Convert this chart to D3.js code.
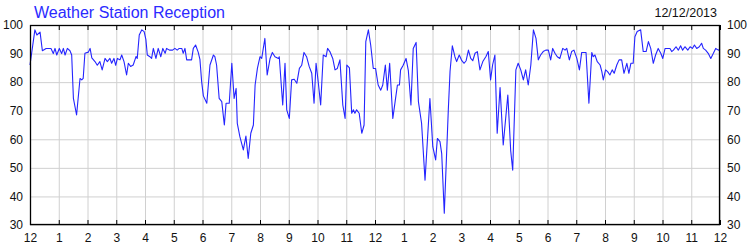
<!DOCTYPE html>
<html><head><meta charset="utf-8">
<script src="https://cdn.jsdelivr.net/npm/d3@7"></script>
<style>
html,body{margin:0;padding:0;background:#fff;}
svg{display:block;font-family:"Liberation Sans",Arial,sans-serif;}
</style></head>
<body><svg id="c" width="750" height="250"></svg>
<script>
const title = "Weather Station Reception";
const dateLabel = "12/12/2013";
const hourTicks = d3.range(0, 25);
const hourLabels = ["12","1","2","3","4","5","6","7","8","9","10","11","12","1","2","3","4","5","6","7","8","9","10","11","12"];
const yTicks = [30,40,50,60,70,80,90,100];

const times = [0,0.17,0.24,0.35,0.43,0.56,0.73,0.81,0.87,0.93,1.02,1.10,1.16,1.22,1.30,1.39,1.45,1.51,1.62,1.74,1.80,1.85,1.91,2.03,2.09,2.15,2.26,2.34,2.43,2.51,2.61,2.69,2.78,2.84,2.92,2.98,3.04,3.13,3.19,3.27,3.36,3.42,3.50,3.59,3.69,3.73,3.80,3.89,3.97,4.03,4.08,4.17,4.23,4.29,4.38,4.46,4.55,4.62,4.70,4.75,4.85,4.96,5.04,5.12,5.19,5.28,5.33,5.39,5.45,5.62,5.68,5.76,5.85,5.91,5.97,6.03,6.15,6.26,6.38,6.43,6.49,6.58,6.67,6.76,6.82,6.93,7.02,7.10,7.17,7.21,7.30,7.42,7.51,7.59,7.68,7.77,7.83,7.91,8.00,8.06,8.17,8.25,8.35,8.43,8.52,8.64,8.67,8.79,8.87,8.93,9.02,9.10,9.19,9.28,9.37,9.45,9.53,9.62,9.71,9.80,9.88,9.95,10.03,10.11,10.20,10.30,10.35,10.43,10.53,10.61,10.69,10.78,10.88,10.96,11.02,11.11,11.19,11.25,11.30,11.36,11.45,11.54,11.62,11.68,11.77,11.85,11.94,12.02,12.11,12.20,12.27,12.36,12.43,12.51,12.62,12.70,12.78,12.85,12.89,12.98,13.08,13.16,13.25,13.33,13.43,13.51,13.62,13.74,13.91,14.01,14.11,14.17,14.26,14.32,14.41,14.55,14.61,14.69,14.78,14.84,14.93,15.02,15.10,15.17,15.25,15.33,15.40,15.48,15.56,15.65,15.75,15.86,15.94,16.02,16.09,16.17,16.25,16.35,16.46,16.62,16.72,16.79,16.90,16.98,17.07,17.16,17.24,17.33,17.42,17.51,17.60,17.68,17.76,17.85,17.94,18.03,18.11,18.18,18.26,18.34,18.43,18.53,18.61,18.67,18.76,18.84,18.92,19.02,19.11,19.19,19.34,19.44,19.54,19.59,19.65,19.73,19.83,19.89,19.94,20.02,20.09,20.17,20.25,20.32,20.41,20.49,20.58,20.66,20.76,20.83,20.90,20.98,21.04,21.12,21.24,21.33,21.43,21.51,21.59,21.68,21.76,21.85,21.94,22.01,22.09,22.26,22.32,22.38,22.47,22.55,22.63,22.70,22.78,22.88,22.96,23.04,23.11,23.19,23.28,23.36,23.42,23.50,23.59,23.68,23.77,23.85,23.94,24];
const signal = [86,98.3,96.5,97.5,91,91.8,91.8,90,91.8,89.5,91.8,90,91.8,89.5,91.8,91,89.5,74.3,68.5,81.3,80.8,81.3,90.1,90.5,91.8,88.5,87.2,85.9,87.2,84.3,88.3,87.2,88.3,86.6,88.3,85.9,88.3,87.8,89.5,87.2,82.5,86.6,85.5,86,89,88.3,96.5,98.3,97.7,95,89.5,88.9,88.3,91.8,88.3,91.8,88.9,91.8,90.1,91.8,91.2,91.2,91.8,91.2,91.8,91.8,90.1,91.8,87.8,87.8,91.8,93,90.5,88,80.2,75.2,72.6,86,89.5,88.9,86,74.3,73.2,65,72.6,72.6,86.6,74.3,77.8,65.6,60.9,56.3,61.1,53.3,62.1,65,79,84.8,88.9,88.3,95.3,82.5,88.3,90.4,88.9,88.3,88.9,72,86.6,70.3,67.3,80.8,81,79.6,84.8,85.9,90.4,88.9,85.5,83.1,72.6,86.6,79.6,72,89.5,88.9,91.8,90.7,88.3,84.3,84.8,87.8,72,67.3,86,85,69.1,70.3,69.1,70.3,69.1,62.1,65,94.2,98.3,93,84.8,84.8,79,77.2,79,86,77.2,86.6,67.3,73.2,79,79,84.3,85.9,88.3,84,72,91.8,93.9,73.2,65.6,45.7,74.3,57.4,52.8,60.3,59.2,55,34.1,70.3,83.7,92.7,88.9,87.2,89.5,87.5,86.6,87.5,91.2,88.3,87.5,90.1,90.7,84.3,87.2,89,90.7,80.8,86,89.5,62.1,78.1,58,75.5,56,49.2,84.3,86.6,84.3,80.8,84.3,79,86,98.3,95.3,87.8,89.5,90.7,91.2,91.2,87.8,91.8,90.1,88.9,88.3,91.8,91.2,91.8,87.8,90.7,91.2,88.3,84.3,90.4,90.4,72.6,90.4,88.9,89.5,87.2,86,83.7,80.8,84.3,83.7,82.5,84.3,83.1,86,87.8,87.8,83.1,86.6,83.1,86.6,86.6,95.9,97.7,98.3,90.7,90.7,94.2,91.8,86.6,89.5,91.8,90.1,88.3,91.8,91.8,90.7,91.2,92.4,91.2,92.7,91.2,92.4,91.2,92.4,91.8,93,91.8,92.4,93.6,91.8,91.2,90.1,88.3,90.1,91.8,91.2,91.5];

const svg = d3.select("#c");
const L = 30, R = 720, T = 25, B = 225;
const x = d3.scaleLinear().domain([0, 24]).range([L, R]);
const y = d3.scaleLinear().domain([30, 100]).range([B, T]);
const grid = "#d0d0d0";
const font = "Liberation Sans, Arial, sans-serif";

// vertical grid
svg.append("g").attr("transform", `translate(0,${B})`)
  .call(d3.axisBottom(x).tickValues(hourTicks).tickSize(-(B - T)).tickFormat(""))
  .call(g => g.select(".domain").remove())
  .call(g => g.selectAll("line").attr("stroke", grid));
// horizontal grid
svg.append("g").attr("transform", `translate(${L},0)`)
  .call(d3.axisLeft(y).tickValues(yTicks).tickSize(-(R - L)).tickFormat(""))
  .call(g => g.select(".domain").remove())
  .call(g => g.selectAll("line").attr("stroke", grid));

// line
const line = d3.line().x((d, i) => x(times[i])).y(d => y(d));
svg.append("path").datum(signal)
  .attr("fill", "none").attr("stroke", "#2424ff").attr("stroke-width", 1.1)
  .attr("stroke-linejoin", "round").attr("d", line);

// frame
svg.append("rect").attr("x", L + 0.5).attr("y", T + 0.5).attr("width", R - L - 1).attr("height", B - T - 1)
  .attr("fill", "none").attr("stroke", "#000").attr("stroke-width", 1.3);

// bottom axis ticks & labels
const bx = svg.append("g").attr("transform", `translate(0,${B})`)
  .call(d3.axisBottom(x).tickValues(hourTicks).tickSize(-5).tickPadding(10)
    .tickFormat((d, i) => hourLabels[i]));
bx.select(".domain").remove();
bx.selectAll("line").attr("stroke", "#000");
bx.selectAll("text").attr("font-size", 12).attr("fill", "#111")
  .attr("font-family", font).attr("dy", "0.71em").attr("y", 8);

// top ticks
const tx = svg.append("g").attr("transform", `translate(0,${T})`)
  .call(d3.axisTop(x).tickValues(hourTicks).tickSize(-5).tickFormat(""));
tx.select(".domain").remove();
tx.selectAll("line").attr("stroke", "#000");

// left labels
const ly = svg.append("g").attr("transform", `translate(${L},0)`)
  .call(d3.axisLeft(y).tickValues(yTicks).tickSize(0).tickPadding(7));
ly.select(".domain").remove();
ly.selectAll("text").attr("font-size", 12).attr("fill", "#111").attr("font-family", font);

// right labels
const ry = svg.append("g").attr("transform", `translate(${R},0)`)
  .call(d3.axisRight(y).tickValues(yTicks).tickSize(0).tickPadding(7));
ry.select(".domain").remove();
ry.selectAll("text").attr("font-size", 12).attr("fill", "#111").attr("font-family", font);

// title and date
svg.append("text").attr("x", 34).attr("y", 18).text(title)
  .attr("font-size", 16).attr("fill", "#2a2aff").attr("font-family", font);
svg.append("text").attr("x", 717).attr("y", 17).attr("text-anchor", "end").text(dateLabel)
  .attr("font-size", 12.5).attr("fill", "#111").attr("font-family", font);
</script>
</body></html>
